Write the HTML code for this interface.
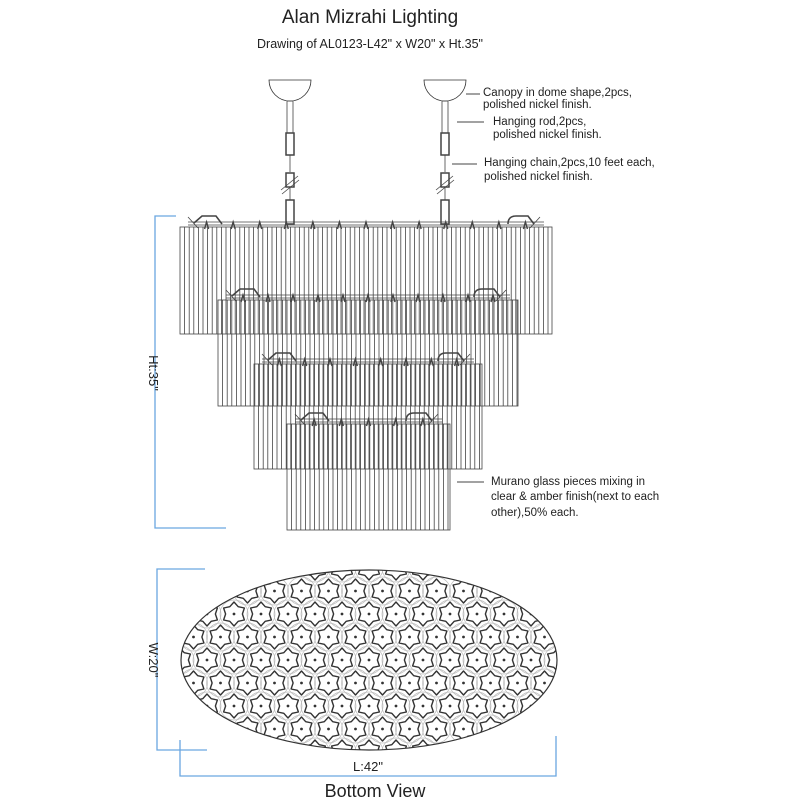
<!DOCTYPE html>
<html><head><meta charset="utf-8"><style>
html,body{margin:0;padding:0;background:#fff}
svg{display:block}
text{font-family:"Liberation Sans",sans-serif;fill:#222}
</style></head><body>
<svg id="s" width="800" height="800" viewBox="0 0 800 800" xmlns="http://www.w3.org/2000/svg">
<defs><clipPath id="cl"><ellipse cx="369" cy="660" rx="188" ry="90"/></clipPath></defs>
<text x="370" y="23" font-size="19" text-anchor="middle">Alan Mizrahi Lighting</text>
<text x="370" y="48" font-size="12.5" text-anchor="middle">Drawing of AL0123-L42" x W20" x Ht.35"</text>
<g font-size="11.5">
<text x="483" y="96">Canopy in dome shape,2pcs,</text>
<text x="483" y="108">polished nickel finish.</text>
<text x="493" y="125">Hanging rod,2pcs,</text>
<text x="493" y="138">polished nickel finish.</text>
<text x="484" y="166">Hanging chain,2pcs,10 feet each,</text>
<text x="484" y="180">polished nickel finish.</text>
<text x="491" y="485">Murano glass pieces mixing in</text>
<text x="491" y="500">clear &amp; amber finish(next to each</text>
<text x="491" y="516">other),50% each.</text>
</g>
<g stroke="#444" stroke-width="1">
<line x1="466" y1="94" x2="480" y2="94"/>
<line x1="457" y1="122" x2="484" y2="122"/>
<line x1="452" y1="164" x2="477" y2="164"/>
<line x1="457" y1="482" x2="484" y2="482"/>
</g>
<g stroke="#6aa6e0" stroke-width="1.3" fill="none">
<polyline points="176,216 155,216 155,528 226,528"/>
<polyline points="205,569 157,569 157,750 207,750"/>
<polyline points="180,740 180,776 556,776 556,736"/>
</g>
<text x="0" y="0" font-size="13" transform="translate(149,373) rotate(90)" text-anchor="middle">Ht:35"</text>
<text x="0" y="0" font-size="13" transform="translate(149,660) rotate(90)" text-anchor="middle">W:20"</text>
<text x="368" y="771" font-size="13" text-anchor="middle">L:42"</text>
<text x="375" y="797" font-size="18" text-anchor="middle">Bottom View</text>
<g id="g" stroke="#444" stroke-width="0.8" fill="none"></g>
<g id="st" stroke="#333" fill="none" clip-path="url(#cl)"></g>
<ellipse cx="369" cy="660" rx="188" ry="90" stroke="#333" stroke-width="1.2" fill="none"/>
</svg>
<script>
var g=document.getElementById('g'),h='';
function L(a,b,c,d){h+='<line x1="'+a+'" y1="'+b+'" x2="'+c+'" y2="'+d+'"/>';}
[290,445].forEach(function(cx){
 h+='<path d="M'+(cx-21)+' 80 L'+(cx+21)+' 80 A21 21 0 0 1 '+(cx-21)+' 80 Z" fill="#fff" stroke="#333"/>';
 h+='<rect x="'+(cx-3)+'" y="101" width="6" height="32"/>';
 h+='<rect x="'+(cx-4)+'" y="133" width="8" height="22" stroke-width="1.5"/>';
 L(cx,155,cx,172);
 h+='<rect x="'+(cx-4)+'" y="173" width="8" height="14" stroke-width="1.5"/>';
 L(cx-9,190,cx+8,176);L(cx-8,194,cx+9,180);
 L(cx,187,cx,200);
 h+='<rect x="'+(cx-4)+'" y="200" width="8" height="24" stroke-width="1.5"/>';
});
var tiers=[[180,552,227,334],[218,518,300,406],[254,482,364,469],[287,450,424,530]];
tiers.forEach(function(t){
 var x0=t[0],x1=t[1],y0=t[2],y1=t[3],s=4.6;
 h+='<rect x="'+x0+'" y="'+y0+'" width="'+(x1-x0)+'" height="'+(y1-y0)+'" fill="none"/>';
 for(var x=x0+s;x<x1;x+=s) L(x.toFixed(1),y0,x.toFixed(1),y1);
 L(x0+8,y0-5,x1-8,y0-5);L(x0+8,y0-2,x1-8,y0-2);
 var n=Math.round((x1-x0)/26);
 for(var i=1;i<n;i++){var hx=x0+i*(x1-x0)/n;h+='<path d="M'+(hx-2)+' '+(y0+2)+' L'+hx+' '+(y0-5)+' L'+(hx+2)+' '+(y0+2)+'" stroke-width="1.4"/>';}
 h+='<path d="M'+(x0+14)+' '+(y0-4)+' L'+(x0+22)+' '+(y0-11)+' L'+(x0+36)+' '+(y0-11)+' L'+(x0+42)+' '+(y0-3)+'" stroke-width="1.6"/>';
 h+='<path d="M'+(x1-44)+' '+(y0-3)+' Q'+(x1-44)+' '+(y0-11)+' '+(x1-36)+' '+(y0-11)+' L'+(x1-24)+' '+(y0-11)+' L'+(x1-18)+' '+(y0-3)+'" stroke-width="1.6"/>';
 L(x0+8,y0-10,x0+18,y0+1);L(x1-12,y0-10,x1-22,y0+1);
});
g.innerHTML=h;
var cx=369,cy=660,rx=188,ry=90,s2='';
function star(x,y,r){var p='';for(var k=0;k<12;k++){var a=k*Math.PI/6-Math.PI/2,rr=k%2?r*0.7:r;p+=(k?'L':'M')+(x+rr*Math.cos(a)).toFixed(1)+' '+(y+rr*Math.sin(a)).toFixed(1);}return '<path d="'+p+'Z" stroke-width="1.4" stroke-linejoin="round"/>';}
var dx=27,dy=23;
for(var r=-4;r<=4;r++){var y=cy+r*dy;var off=(Math.abs(r)%2)?dx/2:0;
 for(var x=cx-216+off;x<cx+216;x+=dx){
  var e=Math.pow((x-cx)/(rx+2),2)+Math.pow((y-cy)/(ry+6),2);
  if(e<=1.0){s2+='<circle cx="'+x+'" cy="'+y+'" r="14" stroke="#bbb" stroke-width="0.7"/>';s2+=star(x,y,12);s2+='<circle cx="'+x+'" cy="'+y+'" r="0.9" fill="#333"/>';}
 }}
document.getElementById('st').innerHTML=s2;
</script>
</body></html>
